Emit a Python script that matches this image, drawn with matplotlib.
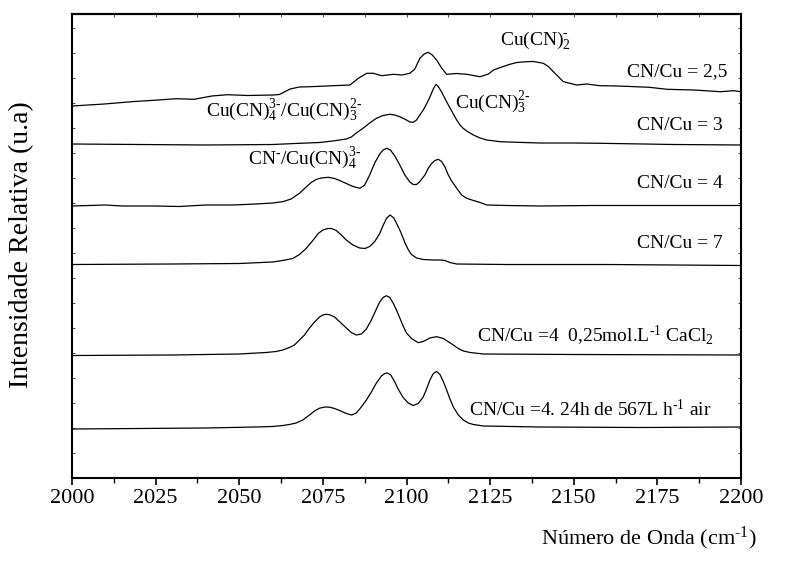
import matplotlib
matplotlib.use("Agg")
import matplotlib.pyplot as plt
from matplotlib.ticker import MultipleLocator, NullFormatter

plt.rcParams['font.family'] = ['Liberation Serif', 'DejaVu Serif']
plt.rcParams['mathtext.fontset'] = 'custom'
plt.rcParams['mathtext.rm'] = 'Liberation Serif'
plt.rcParams['mathtext.it'] = 'Liberation Serif'
plt.rcParams['mathtext.bf'] = 'Liberation Serif:bold'

# spectra: wavenumber (cm-1) and intensity above each baseline (a.u.)
w1 = [2000, 2009.7, 2017.8, 2025.8, 2031.1, 2036.5, 2041.8, 2046.5, 2052.5, 2060.2, 2062, 2065.2,
      2068, 2071.2, 2078.1, 2083.1, 2085.6, 2088.1, 2090.1, 2092.6, 2096.1, 2098.6, 2101, 2102.5,
      2104, 2105.3, 2106.5, 2107.7, 2109, 2110.5, 2112, 2115, 2118, 2122, 2124.5, 2126, 2128.5,
      2130.9, 2133, 2135.9, 2138, 2140.9, 2142.4, 2143.9, 2145.5, 2146.9, 2150.9, 2153.9, 2157.8,
      2163.2, 2172.6, 2177.9, 2185.9, 2193.9, 2197.9, 2200]
i1 = [0, 2, 4.3, 6, 7.3, 6.7, 10, 11.3, 10.5, 11, 11.5, 17,
      19, 19.3, 20.3, 21, 27.7, 32.7, 32.7, 30.3, 31.7, 31, 32.7, 37,
      47.7, 52, 53.7, 51, 46, 38, 31.7, 32.5, 31.7, 29.3, 32, 36, 39,
      41.7, 43.5, 44.3, 44.5, 42.7, 39.5, 34.3, 29, 24.3, 21, 22, 20.3,
      20, 18.7, 16.7, 16, 14.3, 15.3, 14.3]

w2 = [2000, 2020, 2040, 2060, 2068, 2074, 2078, 2080, 2082, 2083.5, 2085, 2087, 2089, 2091, 2093,
      2095, 2096.5, 2098, 2100, 2101, 2102, 2103, 2104, 2105, 2106, 2107, 2108, 2108.8, 2109.5,
      2110.5, 2112, 2113, 2114, 2115, 2116, 2117, 2118, 2120, 2122, 2124, 2128, 2135, 2140, 2150,
      2158, 2180, 2200]
i2 = [1, 0.5, 0, 0.5, 1.7, 2.5, 4, 5, 6, 8, 12, 16.7, 22, 26.7, 29.5,
      30.7, 30, 28.3, 25, 23, 22.7, 25, 30, 35, 41, 48, 56, 60.7, 58.5,
      53, 43.3, 37, 31, 25, 20, 16.5, 14, 10, 7, 5, 3.3, 2.5, 2, 2,
      1.7, 0.5, 0]

w3 = [2000, 2005, 2010, 2015, 2025, 2032, 2040, 2048, 2055, 2060, 2063, 2065.5, 2068, 2070,
      2071.5, 2073, 2074.5, 2076.6, 2078.5, 2080, 2082, 2084, 2086.1, 2087.5, 2089, 2090.5, 2092,
      2093, 2094.1, 2095.2, 2096.5, 2098, 2099.5, 2101, 2102, 2103, 2104, 2105.5, 2106.5, 2107.5,
      2108.5, 2109.5, 2110.5, 2111.5, 2112.5, 2113.5, 2115, 2116.5, 2118, 2120, 2122, 2124, 2130,
      2140, 2155, 2170, 2200]
i3 = [0, 0.5, 1, 0, 0, -0.5, 1, 1, 2, 3, 4.3, 7, 12.7, 19,
      23.5, 26.5, 28, 28.7, 27.5, 25.5, 22.5, 19.5, 17.7, 21, 31, 43, 52,
      56, 57.7, 56, 50, 41, 31, 24, 21.5, 21.5, 24.5, 31, 37.7, 42.5,
      45.5, 46.7, 44.5, 39, 31, 25, 17.7, 11, 7.7, 5.5, 3.5, 1, 0.5,
      0, 0.5, 0.5, 0.5]

w4 = [2000, 2030, 2050, 2060, 2063, 2066, 2068, 2070, 2072, 2073.6, 2075, 2076.5, 2077.6, 2079,
      2080.5, 2082, 2084, 2086, 2087.6, 2089, 2090.5, 2092, 2093, 2094, 2095.1, 2096.2, 2097.2,
      2098.2, 2099.5, 2100.5, 2101.5, 2103, 2105, 2108, 2110, 2111.5, 2113, 2115, 2130, 2160, 2200]
i4 = [0, 0.5, 1, 2.5, 4, 6, 10, 16, 24, 31, 34.5, 36, 36, 34,
      29.5, 24.5, 19.5, 16.5, 16, 18, 23, 31, 39, 46, 49.5, 46.5, 40,
      33, 22, 15, 10, 6.5, 5, 4.5, 4.5, 4, 2, 0.5, 0, 0, -1]

w5 = [2000, 2030, 2050, 2058, 2061, 2063, 2065, 2066.5, 2068, 2069.5, 2071, 2072.5, 2074, 2075,
      2076, 2077, 2078.5, 2080, 2082, 2083.5, 2085, 2086.5, 2088, 2089.5, 2091, 2092, 2093, 2094,
      2095, 2096, 2097, 2098, 2099, 2100, 2101.5, 2103.5, 2105, 2107, 2109, 2111, 2112.5, 2114,
      2115.5, 2117, 2119, 2123, 2150, 2200]
i5 = [-0.5, 0, 1, 2.5, 3.5, 5, 7.5, 10, 15, 20, 27, 33, 38, 40,
      40.7, 40.3, 38, 33.3, 27, 22.5, 20, 21, 26, 35, 46, 53, 57.5, 59.3,
      57.5, 52, 45, 37, 29, 22, 16.5, 12.3, 13.5, 17, 18.3, 16.5, 13.3, 10,
      6.5, 4, 2.5, 1, 0.5, 0]

w6 = [2000, 2020, 2040, 2055, 2060, 2063, 2065, 2067, 2069, 2071, 2072.5, 2074, 2075.6, 2077,
      2078.5, 2080, 2082, 2083.6, 2085, 2086.5, 2088, 2089.5, 2091, 2092.5, 2093.5, 2094.3, 2095.3,
      2096.5, 2097.5, 2099, 2100.5, 2102, 2103.5, 2105, 2106, 2107, 2108, 2109, 2110, 2111, 2112,
      2113, 2114, 2115.5, 2117, 2118.5, 2120, 2123, 2140, 2170, 2200]
i6 = [0, 0.5, 1, 2, 2.5, 3.5, 4.5, 6, 9, 14, 18, 20.8, 22, 21.8,
      20.5, 18.5, 15.5, 14, 16, 22, 29, 37, 46, 53, 55.5, 56, 54,
      47, 40, 31.5, 26, 23.5, 25.5, 32, 40, 49, 55.5, 57.5, 54.5, 47.5, 39,
      30, 22, 14, 9, 6, 4.5, 3, 2, 1.5, 2]

offsets = [372, 333, 272, 213.5, 123, 49]
series = [(w1, i1), (w2, i2), (w3, i3), (w4, i4), (w5, i5), (w6, i6)]

fig = plt.figure(figsize=(8.11, 5.67), dpi=100)
ax = fig.add_axes([72 / 811, 1 - 478 / 567, (741 - 72) / 811, (478 - 14) / 567])

for (w, inten), off in zip(series, offsets):
    ax.plot(w, [v + off for v in inten], color='black', lw=0.9)

ax.set_xlim(2000, 2200)
ax.set_ylim(0, 464)

ax.xaxis.set_major_locator(MultipleLocator(25))
ax.xaxis.set_minor_locator(MultipleLocator(12.5))
ax.yaxis.set_major_locator(MultipleLocator(25))
ax.yaxis.set_major_formatter(NullFormatter())
ax.tick_params(axis='x', which='major', direction='out', length=5, width=1.2,
               labelsize=16, pad=3, top=False)
ax.tick_params(axis='x', which='minor', direction='out', length=3.5, width=1.0, top=False)
ax.tick_params(axis='y', which='major', direction='in', length=2.5, width=0.5,
               left=True, right=True)
for sp in ax.spines.values():
    sp.set_linewidth(1.5)

# faint inward ticks along the top frame
top = ax.secondary_xaxis('top')
top.xaxis.set_major_locator(MultipleLocator(25))
top.xaxis.set_minor_locator(MultipleLocator(12.5))
top.tick_params(which='both', direction='in', length=2.5, width=0.5, labeltop=False)
top.spines['top'].set_linewidth(1.5)

fs = 14
ax.text(2138.7, 438, r'Cu(CN)$_2^{\text{-}}$', fontsize=fs, ha='center', va='center')
ax.text(2181, 406, 'CN/Cu = 2,5', fontsize=fs, ha='center', va='center')
ax.text(2063.5, 368, r'Cu(CN)$_4^{\text{3-}}$/Cu(CN)$_3^{\text{2-}}$', fontsize=fs,
        ha='center', va='center')
ax.text(2114.5, 376, r'Cu(CN)$_3^{\text{2-}}$', fontsize=fs, ha='left', va='center')
ax.text(2181.8, 352, 'CN/Cu = 3', fontsize=fs, ha='center', va='center')
ax.text(2069.7, 320, r'CN$^{\text{-}}$/Cu(CN)$_4^{\text{3-}}$', fontsize=fs, ha='center', va='center')
ax.text(2181.8, 294, 'CN/Cu = 4', fontsize=fs, ha='center', va='center')
ax.text(2181.8, 235, 'CN/Cu = 7', fontsize=fs, ha='center', va='center')
ax.text(2156.4, 142, r'CN/Cu =4  0,25mol.L$^{\text{-1}}$ CaCl$_2$', fontsize=fs,
        ha='center', va='center')
ax.text(2154.9, 68, r'CN/Cu =4. 24h de 567L h$^{\text{-1}}$ air', fontsize=fs,
        ha='center', va='center')

fig.text(757 / 811, 1 - 538 / 567, r'Número de Onda (cm$^{\text{-1}}$)', fontsize=16,
         ha='right', va='center')
fig.text(22 / 811, 1 - 245 / 567, 'Intensidade Relativa (u.a)', fontsize=20,
         rotation=90, ha='center', va='center')

fig.savefig('out.png', dpi=100)
